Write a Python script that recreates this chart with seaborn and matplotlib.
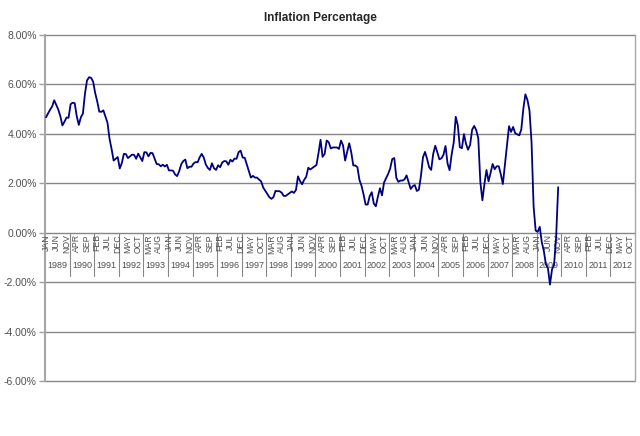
import numpy as np
import pandas as pd
import matplotlib.pyplot as plt
import seaborn as sns

# monthly inflation rate (%), Jan 1989 - Nov 2009
inflation = [
    4.67, 4.83, 4.98, 5.11, 5.36, 5.17, 4.98, 4.71, 4.34, 4.49, 4.66, 4.65,  # 1989
    5.20, 5.26, 5.24, 4.71, 4.36, 4.67, 4.82, 5.62, 6.16, 6.29, 6.27, 6.11,  # 1990
    5.65, 5.31, 4.90, 4.89, 4.95, 4.70, 4.45, 3.80, 3.39, 2.92, 2.99, 3.06,  # 1991
    2.60, 2.82, 3.19, 3.18, 3.02, 3.09, 3.16, 3.15, 2.99, 3.20, 3.05, 2.90,  # 1992
    3.26, 3.25, 3.09, 3.23, 3.22, 3.00, 2.78, 2.77, 2.69, 2.75, 2.68, 2.75,  # 1993
    2.52, 2.52, 2.51, 2.36, 2.29, 2.49, 2.77, 2.90, 2.96, 2.61, 2.67, 2.67,  # 1994
    2.80, 2.86, 2.85, 3.05, 3.19, 3.04, 2.76, 2.62, 2.54, 2.81, 2.61, 2.54,  # 1995
    2.73, 2.65, 2.84, 2.90, 2.89, 2.75, 2.95, 2.88, 3.00, 2.99, 3.26, 3.32,  # 1996
    3.04, 3.03, 2.76, 2.50, 2.23, 2.30, 2.23, 2.23, 2.15, 2.08, 1.83, 1.70,  # 1997
    1.57, 1.44, 1.37, 1.44, 1.69, 1.68, 1.68, 1.62, 1.49, 1.49, 1.55, 1.61,  # 1998
    1.67, 1.61, 1.73, 2.28, 2.09, 1.96, 2.14, 2.26, 2.63, 2.56, 2.62, 2.68,  # 1999
    2.74, 3.22, 3.76, 3.07, 3.19, 3.73, 3.66, 3.41, 3.45, 3.45, 3.45, 3.39,  # 2000
    3.73, 3.53, 2.92, 3.27, 3.62, 3.25, 2.72, 2.72, 2.65, 2.13, 1.90, 1.55,  # 2001
    1.14, 1.14, 1.48, 1.64, 1.18, 1.07, 1.46, 1.80, 1.51, 2.03, 2.20, 2.38,  # 2002
    2.60, 2.98, 3.02, 2.22, 2.06, 2.11, 2.11, 2.16, 2.32, 2.04, 1.77, 1.88,  # 2003
    1.93, 1.69, 1.74, 2.29, 3.05, 3.27, 2.99, 2.65, 2.54, 3.19, 3.52, 3.26,  # 2004
    2.97, 3.01, 3.15, 3.51, 2.80, 2.53, 3.17, 3.64, 4.69, 4.35, 3.46, 3.42,  # 2005
    3.99, 3.60, 3.36, 3.55, 4.17, 4.32, 4.15, 3.82, 2.06, 1.31, 1.97, 2.54,  # 2006
    2.08, 2.42, 2.78, 2.57, 2.69, 2.69, 2.36, 1.97, 2.76, 3.54, 4.31, 4.08,  # 2007
    4.28, 4.03, 3.98, 3.94, 4.18, 5.02, 5.60, 5.37, 4.94, 3.66, 1.07, 0.09,  # 2008
    0.03, 0.24, -0.38, -0.74, -1.28, -1.43, -2.10, -1.48, -1.29, -0.18, 1.84,  # 2009
]
years = list(range(1989, 2013))
month_names = ['JAN', 'FEB', 'MAR', 'APR', 'MAY', 'JUN',
               'JUL', 'AUG', 'SEP', 'OCT', 'NOV', 'DEC']
y_ticks = [-6, -4, -2, 0, 2, 4, 6, 8]

df = pd.DataFrame({'month': np.arange(len(inflation)), 'inflation': inflation})

sns.set_style('white')
plt.rcParams['font.family'] = ['Liberation Sans', 'DejaVu Sans']

fig = plt.figure(figsize=(6.4, 4.36), dpi=100)
ax = fig.add_axes([45 / 640, 1 - 381 / 436, 590 / 640, 346 / 436])

n_cat = len(years) * 12
ax.set_xlim(-0.5, n_cat - 0.5)
ax.set_ylim(-6, 8)

# excel style gridlines (not clipped so the edge ones show fully)
for v in y_ticks:
    ax.axhline(v, color='#868686', lw=1, zorder=1, clip_on=False)

sns.lineplot(data=df, x='month', y='inflation', color='#000080', lw=1.3, ax=ax, zorder=5)

# category labels sitting under the zero line
for i in range(0, n_cat, 5):
    ax.text(i, -0.06, month_names[i % 12], rotation=90, ha='center', va='top',
            fontsize=6.3, color='#505050', zorder=3)
for k, yr in enumerate(years):
    ax.text(12 * k + 5.5, -1.32, str(yr), ha='center', va='center',
            fontsize=6.5, color='#505050', zorder=3)
    if k > 0:
        ax.plot([12 * k - 0.5, 12 * k - 0.5], [0, -1.75], color='#868686', lw=0.8, zorder=2)

ax.set_xticks([])
ax.set_yticks(y_ticks)
ax.set_yticklabels([f'{v:.2f}%' for v in y_ticks])
ax.tick_params(axis='y', direction='out', length=4, width=1, color='#a0a0a0',
               labelsize=7.5, labelcolor='#505050', pad=2, left=True)
ax.set_xlabel('')
ax.set_ylabel('')

for side in ['top', 'bottom']:
    ax.spines[side].set_visible(False)
ax.spines['left'].set_color('#a6a6a6')
ax.spines['left'].set_linewidth(1.5)
ax.spines['right'].set_color('#a6a6a6')
ax.spines['right'].set_linewidth(1)

fig.text(0.5, 1 - 18 / 436, 'Inflation Percentage', ha='center', va='center',
         fontsize=8.5, fontweight='bold')

fig.savefig('out.png', dpi=100)
